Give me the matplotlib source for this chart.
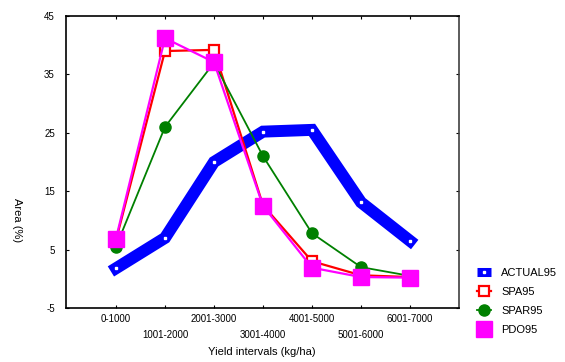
import matplotlib
matplotlib.use("Agg")
import matplotlib.pyplot as plt
from matplotlib.lines import Line2D

plt.rcParams['font.family'] = ['Liberation Sans', 'DejaVu Sans']

categories = ["0-1000", "1001-2000", "2001-3000", "3001-4000",
              "4001-5000", "5001-6000", "6001-7000"]
actual95 = [1.8, 7.0, 20.0, 25.2, 25.5, 13.1, 6.5]
spa95 = [6.6, 39.0, 39.2, 12.6, 3.0, 0.6, 0.3]
spar95 = [5.5, 26.0, 37.0, 21.0, 7.8, 2.0, 0.5]
pdo95 = [6.9, 41.2, 37.1, 12.5, 1.9, 0.3, 0.2]
y_ticks = [-5, 5, 15, 25, 35, 45]

x = list(range(len(categories)))

fig = plt.figure(figsize=(5.65, 3.62), dpi=100)
ax = fig.add_axes([66 / 565, 54 / 362, 393 / 565, 292 / 362])

ax.plot(x, actual95, color="#0000ff", lw=8.6, solid_capstyle="projecting",
        solid_joinstyle="miter", marker="s", ms=1.6, mfc="white", mec="white",
        zorder=2)
ax.plot(x, spa95, color="#ff0000", lw=1.6, marker="s", ms=7, mfc="white",
        mec="#ff0000", mew=1.6, zorder=3)
ax.plot(x, spar95, color="#008000", lw=1.3, marker="o", ms=8, mfc="#008000",
        mec="#008000", zorder=4)
ax.plot(x, pdo95, color="#ff00ff", lw=1.6, marker="s", ms=12, mfc="#ff00ff",
        mec="#ff00ff", zorder=5)

ax.set_xlim(-1.02, 7.0)
ax.set_ylim(-5, 45)
ax.set_yticks(y_ticks)
ax.set_yticklabels([str(v) for v in y_ticks], fontsize=7)
ax.set_xticks(x)
ax.set_xticklabels([c if i % 2 == 0 else "\n" + c for i, c in enumerate(categories)],
                   fontsize=7, linespacing=1.75)
ax.tick_params(direction="in", length=2.5, width=0.8, top=True, right=True,
               colors="black")
ax.tick_params(axis="y", pad=8)
ax.tick_params(axis="x", pad=4)
for s in ax.spines.values():
    s.set_linewidth(1.2)
ax.spines["right"].set_color("#404040")

fig.text(262 / 565, 1 - 352 / 362, "Yield intervals (kg/ha)", fontsize=8,
         ha="center", va="center")
fig.text(17 / 565, 1 - 220 / 362, "Area (%)", fontsize=8, rotation=270,
         ha="center", va="center")

handles = [
    Line2D([], [], color="#0000ff", lw=6.5, marker="s", ms=1.6, mfc="white",
           mec="white", solid_capstyle="butt"),
    Line2D([], [], color="#ff0000", lw=1.6, marker="s", ms=7, mfc="white",
           mec="#ff0000", mew=1.6),
    Line2D([], [], color="#008000", lw=1.3, marker="o", ms=8, mfc="#008000",
           mec="#008000"),
    Line2D([], [], color="#ff00ff", lw=0, marker="s", ms=12, mfc="#ff00ff",
           mec="#ff00ff"),
]
labels = ["ACTUAL95", "SPA95", "SPAR95", "PDO95"]
fig.legend(handles, labels, loc="upper left", bbox_to_anchor=(477 / 565, 1 - 268 / 362),
           frameon=False, fontsize=8, handlelength=1.3, handletextpad=0.9,
           labelspacing=0.8, borderpad=0, borderaxespad=0)

fig.savefig("out.png", dpi=100)
